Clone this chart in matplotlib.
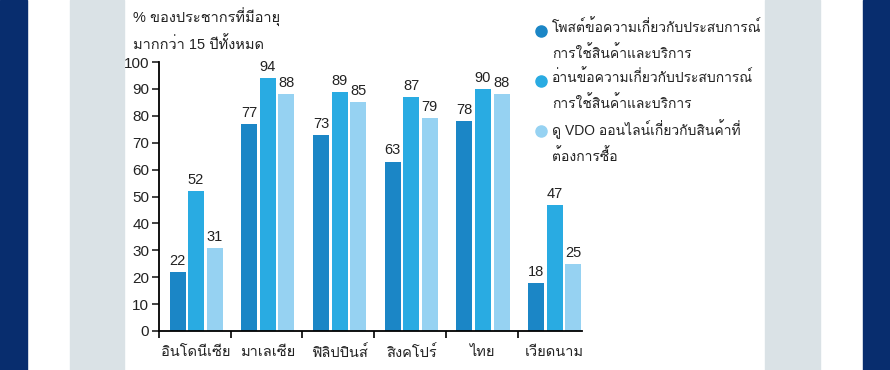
import matplotlib
matplotlib.use("Agg")
import matplotlib.pyplot as plt
from matplotlib import font_manager
from matplotlib.ft2font import FT2Font
from matplotlib.patches import Rectangle
from matplotlib.lines import Line2D

# หา font ที่มีอักษรไทย
thai_font = None
for f in font_manager.fontManager.ttflist:
    try:
        if 0x0E01 in FT2Font(f.fname).get_charmap():
            thai_font = f.name
            break
    except Exception:
        pass
fams = ['Liberation Sans']
if thai_font:
    fams.append(thai_font)
fams.append('DejaVu Sans')
plt.rcParams['font.family'] = fams

# ข้อมูล
countries = ['อินโดนีเซีย', 'มาเลเซีย', 'ฟิลิปปินส์', 'สิงคโปร์', 'ไทย', 'เวียดนาม']
post = [22, 77, 73, 63, 78, 18]
read = [52, 94, 89, 87, 90, 47]
video = [31, 88, 85, 79, 88, 25]
labels = ['โพสต์ข้อความเกี่ยวกับประสบการณ์\nการใช้สินค้าและบริการ',
          'อ่านข้อความเกี่ยวกับประสบการณ์\nการใช้สินค้าและบริการ',
          'ดู VDO ออนไลน์เกี่ยวกับสินค้าที่\nต้องการซื้อ']
colors = ['#1b86c6', '#29abe2', '#96d2f2']
y_title = '% ของประชากรที่มีอายุ\nมากกว่า 15 ปีทั้งหมด'

W, H = 890, 370
fig = plt.figure(figsize=(W / 100, H / 100), dpi=100)

# พื้นหลัง
def band(x0, x1, c):
    fig.patches.append(Rectangle((x0 / W, 0), (x1 - x0) / W, 1, transform=fig.transFigure,
                                 color=c, zorder=-5))
band(0, 27, '#082d6e')
band(70, 124, '#dae2e6')
band(765, 820, '#dae2e6')
band(863, 890, '#082d6e')

ax = fig.add_axes([159 / W, 1 - 331 / H, (582 - 159) / W, (331 - 62) / H])
ax.patch.set_alpha(0)

x = list(range(len(countries)))
step = 0.258
w = 0.223
for k, (vals, c) in enumerate(zip([post, read, video], colors)):
    xs = [i + (k - 1) * step for i in x]
    bars = ax.bar(xs, vals, width=w, color=c, zorder=2)
    for b, v in zip(bars, vals):
        ax.text(b.get_x() + b.get_width() / 2, v + 1.5, str(v), ha='center', va='bottom',
                fontsize=10.5, color='#222222')

ax.set_ylim(0, 100)
ax.set_xlim(-0.516, 5.38)
ax.set_yticks(range(0, 101, 10))
ax.tick_params(axis='y', labelsize=11, length=5, width=1.2, direction='out', pad=2, colors='#222222')
ax.set_xticks(x)
ax.set_xticklabels(countries, fontsize=10.5, color='#222222')
ax.tick_params(axis='x', which='major', length=0, pad=10)
ax.set_xticks([i - 0.516 for i in x], minor=True)
ax.tick_params(axis='x', which='minor', length=5, width=1.2, direction='out')
for s in ['top', 'right']:
    ax.spines[s].set_visible(False)
for s in ['left', 'bottom']:
    ax.spines[s].set_linewidth(1.3)

fig.text(133 / W, 1 - 8 / H, y_title, ha='left', va='top', fontsize=10.5,
         color='#222222', linespacing=1.7)

# legend
for k, (c, lab) in enumerate(zip(colors, labels)):
    yy = 1 - (31 + k * 50) / H
    fig.add_artist(Line2D([541 / W], [yy], marker='o', ms=8, color=c, transform=fig.transFigure))
    fig.text(552 / W, yy + 12 / H, lab, ha='left', va='top', fontsize=10,
             color='#222222', linespacing=1.75)

fig.savefig('out.png', dpi=100)
